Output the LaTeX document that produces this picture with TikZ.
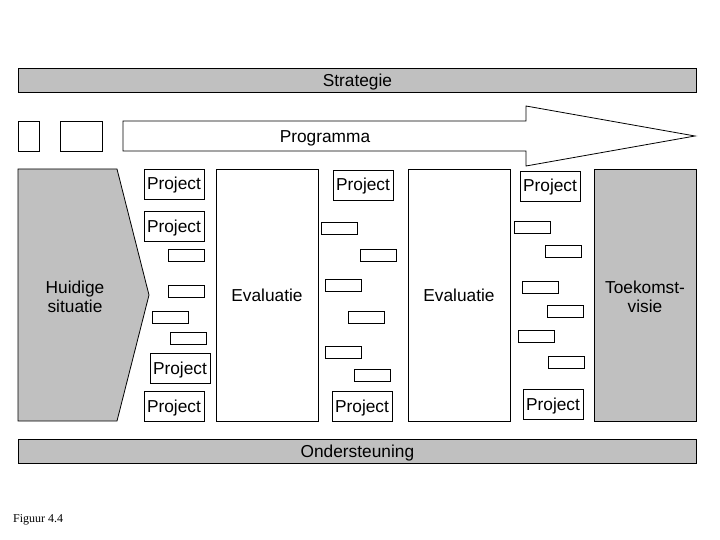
\documentclass[tikz,border=0pt]{standalone}
\usepackage{fontspec}
\setmainfont{Liberation Sans}
\newfontfamily\figserif{Liberation Serif}
\definecolor{panelgray}{RGB}{192,192,192}
\begin{document}
\begin{tikzpicture}[x=1pt,y=-1pt,
  box/.style={draw=black, line width=0.8pt, inner sep=0pt, text height=12pt, text depth=0pt, font=\fontsize{17.3}{19}\selectfont},
  graybox/.style={box, fill=panelgray},
  proj/.style={box, minimum width=60pt, minimum height=30pt},
  mini/.style={box, minimum width=36pt, minimum height=12pt},
  lbl/.style={inner sep=0pt, align=center, font=\fontsize{17.3}{19}\selectfont},
  ]
\useasboundingbox (0,0) rectangle (720,540);
% top bar
\node[graybox, minimum width=678pt, minimum height=24pt, anchor=north west] (strat) at (18,68) {Strategie};
% small squares
\node[box, minimum width=21pt, minimum height=30pt, anchor=north west] (sq1) at (18,121) {};
\node[box, minimum width=42pt, minimum height=30pt, anchor=north west] (sq2) at (60,121) {};
% programme arrow
\draw[line width=0.8pt] (123,121) -- (526,121) -- (526,106) -- (695,136) -- (526,166) -- (526,151) -- (123,151) -- cycle;
\node[lbl, text height=12pt, text depth=0pt] (prog) at (325,137) {Programma};
% current situation
\draw[line width=0.8pt, fill=panelgray] (18,169) -- (117,169) -- (149,295) -- (117,421) -- (18,421) -- cycle;
\node[lbl] (huidig) at (75,297) {Huidige\\situatie};
% evaluation columns
\node[box, minimum width=102pt, minimum height=252pt] (eval1) at (267,295) {Evaluatie};
\node[box, minimum width=102pt, minimum height=252pt] (eval2) at (459,295) {Evaluatie};
\node[graybox, minimum width=102pt, minimum height=252pt] (visie) at (645,295) {};
\node[lbl] (visietxt) at (645,297) {Toekomst-\\visie};
% left column
\node[proj] (p1) at (174,184) {Project};
\node[proj] (p2) at (174,226.5) {Project};
\node[mini] (m1) at (186,255.5) {};
\node[mini] (m2) at (186,291.5) {};
\node[mini] (m3) at (170,317) {};
\node[mini] (m4) at (188.5,338) {};
\node[proj] (p3) at (180,368) {Project};
\node[proj] (p4) at (174,406) {Project};
% middle column
\node[proj] (p5) at (363,185) {Project};
\node[mini] (m5) at (339.5,228) {};
\node[mini] (m6) at (378,255) {};
\node[mini] (m7) at (343.5,285) {};
\node[mini] (m8) at (366.5,317) {};
\node[mini] (m9) at (343.5,352) {};
\node[mini] (m10) at (372,375) {};
\node[proj] (p6) at (362,406) {Project};
% right column
\node[proj] (p7) at (550,186) {Project};
\node[mini] (m11) at (532,227) {};
\node[mini] (m12) at (563,251) {};
\node[mini] (m13) at (540,287) {};
\node[mini] (m14) at (565,311) {};
\node[mini] (m15) at (536,336) {};
\node[mini] (m16) at (566,362) {};
\node[proj] (p8) at (553,404) {Project};
% bottom bar
\node[graybox, minimum width=678pt, minimum height=24pt, anchor=north west] (onder) at (18,439) {Ondersteuning};
% caption
\node[inner sep=0pt, anchor=west, font=\figserif\fontsize{12}{14}\selectfont] (fig) at (13,520) {Figuur 4.4};
\end{tikzpicture}
\end{document}
